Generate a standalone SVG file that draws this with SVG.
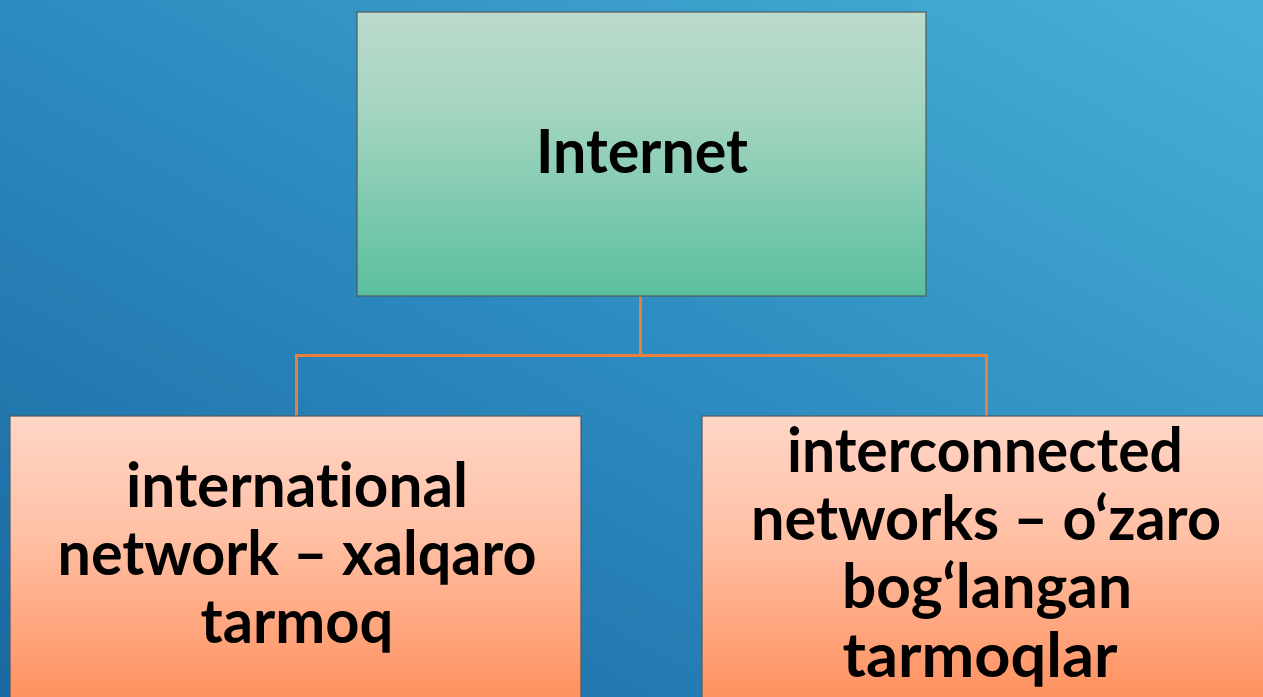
<svg xmlns="http://www.w3.org/2000/svg" width="1263" height="697" viewBox="0 0 1263 697">
<defs>
<linearGradient id="bg" x1="0" y1="1" x2="1" y2="0">
<stop offset="0" stop-color="#1a68a0"/>
<stop offset="0.5" stop-color="#2d8bbf"/>
<stop offset="1" stop-color="#48b0d7"/>
</linearGradient>
<linearGradient id="gTop" x1="0" y1="0" x2="0" y2="1">
<stop offset="0" stop-color="#bcdacb"/>
<stop offset="0.35" stop-color="#a4d5c0"/>
<stop offset="1" stop-color="#5abf9e"/>
</linearGradient>
<linearGradient id="gLow" x1="0" y1="0" x2="0" y2="1">
<stop offset="0" stop-color="#ffd6c7"/>
<stop offset="0.4" stop-color="#ffc0a5"/>
<stop offset="1" stop-color="#ff8c58"/>
</linearGradient>
<style>
.box{stroke:#4f5b60;stroke-width:1.2}
.t{font-family:Lato,"Open Sans","Liberation Sans",sans-serif;font-weight:bold;font-size:62px;fill:#000;text-anchor:middle;font-variant-ligatures:none;font-feature-settings:"liga" 0}
.c{fill:none;stroke:#ea7f3a;stroke-width:3}
</style>
</defs>
<rect width="1263" height="697" fill="url(#bg)"/>
<g id="connectors">
<path class="c" d="M640.5 296 V355.5 H296.5 V416"/>
<path class="c" d="M640.5 355.5 H986.5 V416"/>
</g>
<g id="node-internet">
<rect class="box" x="357" y="12" width="569" height="284" fill="url(#gTop)"/>
<text class="t" x="642" y="173" textLength="212" lengthAdjust="spacingAndGlyphs">Internet</text>
</g>
<g id="node-international">
<rect class="box" x="10" y="416" width="571" height="300" fill="url(#gLow)"/>
<text class="t" x="297" y="507" textLength="342" lengthAdjust="spacingAndGlyphs">international</text>
<text class="t" x="297" y="575" textLength="479" lengthAdjust="spacingAndGlyphs">network – xalqaro</text>
<text class="t" x="297" y="643" textLength="193" lengthAdjust="spacingAndGlyphs">tarmoq</text>
</g>
<g id="node-interconnected">
<rect class="box" x="702" y="416" width="571" height="300" fill="url(#gLow)"/>
<text class="t" x="985" y="472" textLength="396" lengthAdjust="spacingAndGlyphs">interconnected</text>
<text class="t" x="986" y="540" textLength="470" lengthAdjust="spacingAndGlyphs">networks – o‘zaro</text>
<text class="t" x="987" y="608" textLength="290" lengthAdjust="spacingAndGlyphs">bog‘langan</text>
<text class="t" x="980" y="677" textLength="275" lengthAdjust="spacingAndGlyphs">tarmoqlar</text>
</g>
</svg>
